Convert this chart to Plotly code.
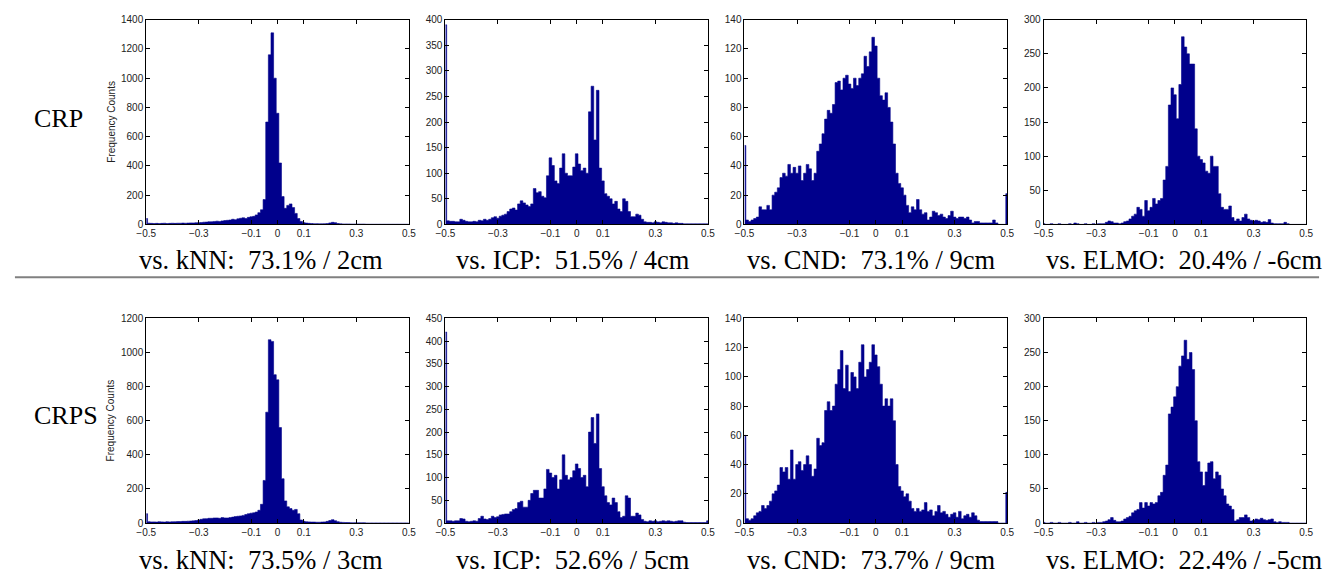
import numpy as np
import plotly.graph_objects as go

# bin centres (width 0.01) from -0.5 to 0.5
bin_width = 0.01
bin_centers = np.round(np.linspace(-0.5, 0.5, 101), 3)

NB = "\u00a0"
row_labels = ["CRP", "CRPS"]
captions = [
    ["vs. kNN:  73.1% / 2cm", "vs. ICP:  51.5% / 4cm", "vs. CND:  73.1% / 9cm", "vs. ELMO:  20.4% / -6cm"],
    ["vs. kNN:  73.5% / 3cm", "vs. ICP:  52.6% / 5cm", "vs. CND:  73.7% / 9cm", "vs. ELMO:  22.4% / -5cm"],
]
y_max = [[1400, 400, 140, 300], [1200, 450, 140, 300]]
y_step = [[200, 50, 20, 50], [200, 50, 20, 50]]
x_tickvals = [-0.5, -0.3, -0.1, 0, 0.1, 0.3, 0.5]
x_ticktext = ["\u22120.5", "\u22120.3", "\u22120.1", "0", "0.1", "0.3", "0.5"]

crp_knn = [40,
           8, 7, 6, 7, 6, 7, 8, 6, 7, 8,
           7, 8, 8, 9, 8, 9, 10, 10, 11, 12,
           13, 15, 16, 18, 18, 20, 22, 20, 24, 26,
           28, 30, 35, 32, 38, 42, 45, 40, 48, 52,
           55, 65, 80, 100,
           170, 700, 1160, 1310, 1000, 760, 420, 190, 110, 130, 140, 115, 75, 40, 20,
           12, 9, 7, 6, 5, 5, 4, 4, 5, 6,
           10, 14, 12, 6,
           4, 3, 3, 3, 2, 2, 2, 2, 2, 2, 1, 1, 1, 1, 1, 1, 1, 1, 1, 1, 1, 1, 1, 1, 1, 1,
           1]
crp_icp = [390,
           7, 6, 6, 5, 5, 10, 8, 6, 5, 5,
           6, 5, 8, 7, 10, 8, 10, 13, 15, 12,
           16, 18, 20, 25, 30, 32, 28, 40, 46, 42,
           38, 35, 40, 70, 62, 64, 55, 52, 95, 130,
           115, 85, 80, 110, 138, 100, 95, 95, 112, 138,
           118, 105, 110, 100, 220, 270, 165, 262, 110, 85,
           60, 55, 50, 40, 45, 30, 25, 50, 45, 25,
           15, 15, 20, 18, 10, 5, 4, 4, 3, 5,
           4, 3, 5, 4, 3, 3, 2, 3, 2, 2,
           1, 1, 1, 1, 1, 1, 1, 1, 1, 1]
crp_cnd = [54,
           3, 2, 3, 4, 5, 12, 10, 10, 13, 10,
           20, 22, 25, 32, 35, 33, 41, 35, 39, 35,
           40, 30, 35, 41, 38, 30, 35, 50, 55, 62,
           72, 78, 76, 82, 97, 98, 92, 100, 102, 96,
           93, 100, 95, 100, 103, 115, 108, 118, 128, 122,
           100, 88, 85, 90, 80, 70, 55, 35, 28, 25,
           20, 13, 8, 12, 10, 17, 10, 7, 8, 3,
           5, 9, 8, 6, 7, 5, 4, 6, 9, 5,
           4, 5, 5, 4, 5, 3, 1, 2, 2, 1,
           1, 1, 1, 1, 3, 1, 0, 0, 0,
           21]
crp_elmo = [1, 0, 0, 1, 0, 0, 1, 0, 0, 0, 1,
            0, 2, 1, 0, 0, 1, 0, 0, 1, 0,
            1, 1, 1, 3, 5, 4, 2, 2, 1, 2,
            4, 5, 8, 12, 15, 25, 22, 12, 35, 20,
            25, 38, 30, 35, 38, 65, 85, 175, 200, 190,
            155, 205, 275, 260, 250, 235, 235, 140, 100, 95,
            90, 78, 75, 100, 85, 85, 45, 25, 22, 22,
            27, 10, 5, 8, 5, 10, 15, 8, 6, 5,
            6, 5, 3, 4, 3, 7, 2, 1, 1, 1,
            1, 3, 1, 0, 0, 0, 0, 0, 0, 0]

crps_knn = [55,
            8, 7, 7, 6, 8, 7, 6, 8, 7, 8,
            8, 9, 9, 10, 10, 11, 12, 13, 15, 18,
            22, 25, 26, 28, 28, 30, 30, 28, 32, 30,
            30, 32, 35, 38, 40, 42, 45, 50, 55, 58,
            60, 65, 75, 110,
            250, 650, 1075, 1065, 870, 840, 560, 260, 130, 95, 85, 75, 80, 55, 18,
            10, 8, 7, 6, 6, 5, 5, 6, 7, 10,
            15, 20, 14, 8,
            5, 4, 3, 3, 2, 2, 2, 2, 2, 2, 1, 1, 1, 1, 1, 1, 1, 1, 1, 1, 1, 1, 1, 1, 1, 1,
            1]
crps_icp = [420,
            5, 5, 4, 5, 5, 10, 9, 4, 3, 4,
            5, 4, 10, 15, 9, 8, 10, 15, 12, 14,
            18, 19, 20, 20, 25, 30, 32, 45, 48, 35,
            35, 50, 65, 72, 72, 55, 55, 75, 118, 110,
            100, 105, 75, 95, 150, 105, 95, 100, 115, 130,
            120, 100, 105, 80, 200, 232, 175, 240, 120, 80,
            60, 45, 40, 55, 45, 25, 12, 15, 60, 55,
            15, 15, 22, 18, 8, 4, 3, 5, 4, 5,
            3, 4, 5, 4, 5, 4, 3, 4, 5, 5,
            2, 1, 1, 1, 1, 1, 1, 1, 1,
            5]
crps_cnd = [60,
            3, 2, 3, 5, 7, 8, 12, 10, 12, 15,
            20, 22, 26, 38, 35, 38, 30, 50, 30, 40,
            42, 36, 40, 46, 40, 32, 37, 58, 53, 55,
            77, 83, 77, 80, 95, 105, 118, 92, 108, 90,
            103, 100, 92, 110, 122, 100, 105, 110, 122, 115,
            107, 95, 80, 85, 80, 85, 70, 40, 25, 22,
            18, 20, 15, 10, 8, 10, 8, 9, 14, 8,
            9, 5, 8, 12, 7, 8, 6, 4, 6, 7,
            4, 8, 3, 5, 6, 4, 7, 5, 2, 1,
            1, 1, 1, 1, 1, 1, 0, 0, 0,
            21]
crps_elmo = [1, 0, 0, 1, 0, 0, 1, 0, 0, 0, 1,
             0, 0, 2, 0, 0, 1, 0, 0, 1, 0,
             1, 1, 2, 3, 5, 8, 4, 2, 2, 3,
             6, 8, 10, 15, 18, 20, 30, 22, 30, 25,
             30, 28, 30, 40, 45, 70, 85, 160, 170, 185,
             200, 230, 245, 268, 240, 250, 225, 150, 90, 75,
             55, 75, 88, 90, 65, 75, 70, 50, 40, 28,
             25, 20, 3, 5, 8, 8, 12, 8, 3, 4,
             6, 5, 7, 5, 4, 5, 6, 2, 1, 2,
             1, 1, 1, 0, 0, 0, 0, 0, 0, 0]

series = [[crp_knn, crp_icp, crp_cnd, crp_elmo],
          [crps_knn, crps_icp, crps_cnd, crps_elmo]]

W, H = 1331, 580
col_px = [(138, 404), (441, 707), (744, 1010), (1047, 1313)]
row_px = [(14, 223), (319, 528)]
caption_x = [254, 570, 872, 1189]
caption_y = [259, 566]
rowlabel_y = [115, 418]

BAR = "rgb(0,0,140)"

fig = go.Figure()
layout_axes = {}
annotations = []
for r in range(2):
    for c in range(4):
        idx = r * 4 + c + 1
        xa = "x" if idx == 1 else f"x{idx}"
        ya = "y" if idx == 1 else f"y{idx}"
        # histogram drawn as a filled step outline (solid, no gaps between bins)
        fig.add_trace(go.Scatter(
            x=bin_centers, y=series[r][c], mode="lines",
            line=dict(shape="hvh", color=BAR, width=0.6),
            fill="tozeroy", fillcolor=BAR,
            xaxis=xa, yaxis=ya, showlegend=False, hoverinfo="skip"))
        x0, x1 = col_px[c]
        y0, y1 = row_px[r]
        common = dict(showline=True, linecolor="black", linewidth=1, mirror="ticks",
                      ticks="inside", ticklen=4, tickcolor="black", showgrid=False,
                      zeroline=False, tickfont=dict(family="Liberation Sans", size=10, color="#222"))
        layout_axes["xaxis" if idx == 1 else f"xaxis{idx}"] = dict(
            domain=[x0 / W, x1 / W], range=[-0.5, 0.5], anchor=ya,
            tickvals=x_tickvals, ticktext=x_ticktext, **common)
        layout_axes["yaxis" if idx == 1 else f"yaxis{idx}"] = dict(
            domain=[1 - y1 / H, 1 - y0 / H], range=[0, y_max[r][c]], anchor=xa,
            tickvals=list(range(0, y_max[r][c] + 1, y_step[r][c])), **common)
        annotations.append(dict(
            text=captions[r][c].replace("  ", NB + NB), x=caption_x[c] / W, y=1 - caption_y[r] / H,
            xref="paper", yref="paper", showarrow=False, xanchor="center", yanchor="middle",
            font=dict(family="Liberation Serif", size=26.5, color="black")))
    annotations.append(dict(
        text=row_labels[r], x=22 / W, y=1 - rowlabel_y[r] / H, xref="paper", yref="paper",
        showarrow=False, xanchor="left", yanchor="middle",
        font=dict(family="Liberation Serif", size=26, color="black")))
    annotations.append(dict(
        text="Frequency Counts", x=102 / W, y=1 - (row_px[r][0] + row_px[r][1]) / 2 / H,
        xref="paper", yref="paper", showarrow=False, textangle=-90,
        xanchor="center", yanchor="middle",
        font=dict(family="Liberation Sans", size=10, color="#222")))

fig.update_layout(
    width=W, height=H, margin=dict(l=0, r=0, t=0, b=0),
    paper_bgcolor="white", plot_bgcolor="white",
    annotations=annotations, hovermode=False,
    shapes=[dict(type="line", xref="paper", yref="paper",
                 x0=5 / W, x1=1326 / W, y0=1 - 277 / H, y1=1 - 277 / H,
                 line=dict(color="#808080", width=2))],
    **layout_axes)

fig.write_html("out.html", config={"displayModeBar": False},
               post_script="document.body.style.margin='0px';document.body.style.overflow='hidden';")
